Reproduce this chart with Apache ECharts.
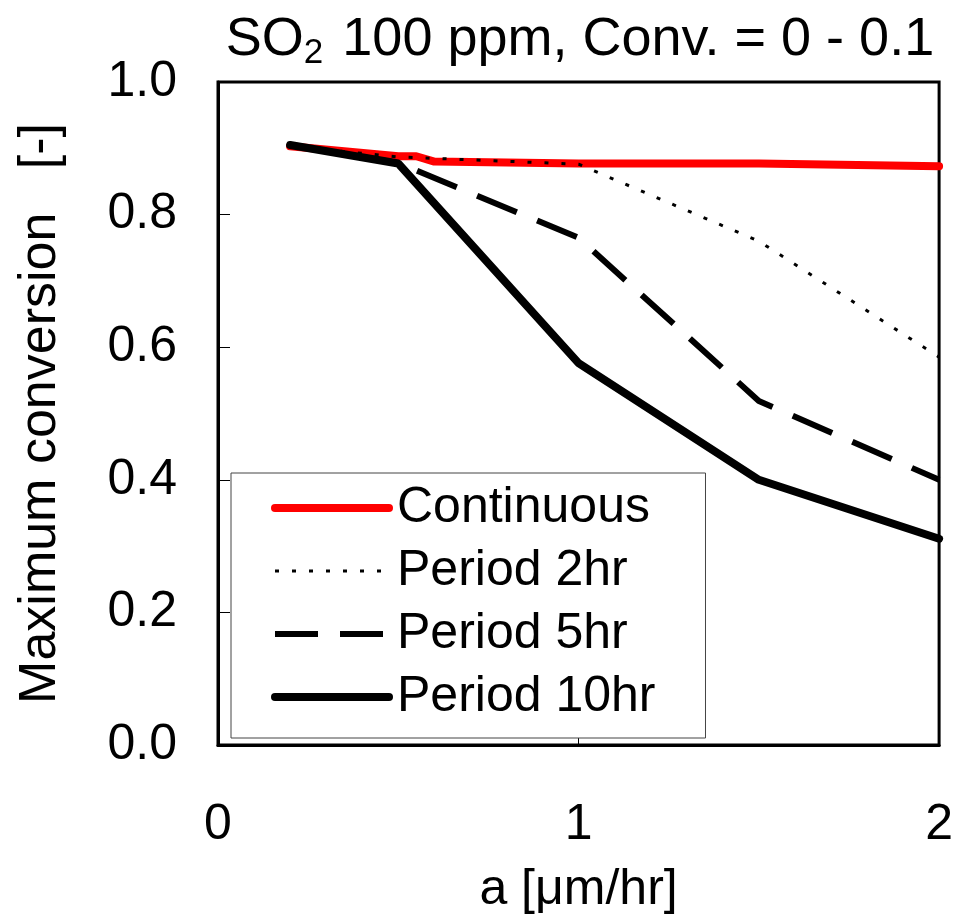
<!DOCTYPE html>
<html>
<head>
<meta charset="utf-8">
<script src="https://cdn.jsdelivr.net/npm/echarts@6/dist/echarts.min.js"></script>
<style>
  html, body { margin: 0; padding: 0; background: #fff; }
  #chart { width: 956px; height: 920px; }
</style>
</head>
<body>
<div id="chart"></div>
<script>
// Growth rate a [μm/hr] and maximum conversion for each operating mode
const continuousX = [0.2, 0.5, 0.55, 0.6, 1.0, 1.5, 2.0];
const continuousY = [0.903, 0.888, 0.888, 0.88, 0.877, 0.877, 0.873];
const period2X = [0.2, 0.5, 1.0, 1.5, 2.0];
const period2Y = [0.903, 0.887, 0.876, 0.76, 0.585];
const period5X = [0.2, 0.5, 1.0, 1.5, 2.0];
const period5Y = [0.905, 0.878, 0.765, 0.519, 0.40];
const period10X = [0.2, 0.5, 1.0, 1.5, 2.0];
const period10Y = [0.905, 0.877, 0.576, 0.40, 0.311];
const seriesNames = ['Continuous', 'Period 2hr', 'Period 5hr', 'Period 10hr'];
const xTicks = [0, 1, 2];
const yTicks = [0.0, 0.2, 0.4, 0.6, 0.8, 1.0];

const pairs = (xs, ys) => xs.map((x, i) => [x, ys[i]]);
const FONT = '"Liberation Sans", Arial, sans-serif';
const FS = 50;

const chart = echarts.init(document.getElementById('chart'), null, { renderer: 'canvas' });

chart.setOption({
  backgroundColor: '#ffffff',
  animation: false,
  title: {
    text: '{n|SO}{s|2}{n| 100 ppm, Conv. = 0 - 0.1}',
    left: 575,
    top: 4,
    textAlign: 'center',
    textStyle: {
      fontWeight: 'normal',
      rich: {
        n: { fontFamily: FONT, fontSize: 54, fontWeight: 'normal', color: '#000' },
        s: { fontFamily: FONT, fontSize: 35, fontWeight: 'normal', color: '#000', padding: [27, 4, 0, 0] }
      }
    }
  },
  grid: {
    left: 218, right: 11, top: 82, bottom: 166,
    show: true, borderColor: '#000', borderWidth: 3, backgroundColor: 'transparent'
  },
  xAxis: {
    type: 'value',
    min: xTicks[0], max: xTicks[xTicks.length - 1], interval: 1,
    name: 'a [μm/hr]',
    nameLocation: 'middle',
    nameGap: 120,
    nameTextStyle: { fontFamily: FONT, fontSize: FS, color: '#000' },
    axisLine: { show: true, lineStyle: { color: '#000', width: 3 } },
    axisTick: { show: true, inside: true, length: 12, lineStyle: { color: '#000', width: 1 } },
    axisLabel: { fontFamily: FONT, fontSize: FS, color: '#000', margin: 55 },
    splitLine: { show: false }
  },
  yAxis: {
    type: 'value',
    min: yTicks[0], max: yTicks[yTicks.length - 1], interval: 0.2,
    name: 'Maximum conversion   [-]',
    nameLocation: 'middle',
    nameGap: 151,
    nameTextStyle: { fontFamily: FONT, fontSize: 52, color: '#000' },
    axisLine: { show: true, lineStyle: { color: '#000', width: 3 } },
    axisTick: { show: true, inside: true, length: 12, lineStyle: { color: '#000', width: 1 } },
    axisLabel: {
      fontFamily: FONT, fontSize: FS, color: '#000', margin: 41,
      formatter: v => v.toFixed(1)
    },
    splitLine: { show: false }
  },
  legend: {
    orient: 'vertical',
    left: 231,
    top: 473,
    data: [
      { name: seriesNames[0], lineStyle: { cap: 'round' } },
      { name: seriesNames[1] },
      { name: seriesNames[2] },
      { name: seriesNames[3], lineStyle: { cap: 'round' } }
    ],
    backgroundColor: '#fff',
    borderColor: '#444',
    borderWidth: 1,
    padding: [10, 50, 16, 40],
    itemWidth: 114,
    itemHeight: 20,
    itemGap: 13,
    itemStyle: { opacity: 0 },
    lineStyle: { width: 'inherit' },
    textStyle: { fontFamily: FONT, fontSize: FS, color: '#000', padding: [0, 0, 0, 3] }
  },
  series: [
    {
      name: seriesNames[0], type: 'line', data: pairs(continuousX, continuousY),
      symbol: 'none', lineStyle: { color: '#ff0000', width: 8, cap: 'round' },
      itemStyle: { color: '#ff0000' }, z: 2
    },
    {
      name: seriesNames[1], type: 'line', data: pairs(period2X, period2Y),
      symbol: 'none', lineStyle: { color: '#000', width: 3, type: [4, 13] },
      itemStyle: { color: '#000' }, z: 6
    },
    {
      name: seriesNames[2], type: 'line', data: pairs(period5X, period5Y),
      symbol: 'none', lineStyle: { color: '#000', width: 6, type: [43, 22] },
      itemStyle: { color: '#000' }, z: 4
    },
    {
      name: seriesNames[3], type: 'line', data: pairs(period10X, period10Y),
      symbol: 'none', lineStyle: { color: '#000', width: 8, cap: 'round' },
      itemStyle: { color: '#000' }, z: 5
    }
  ]
});
</script>
</body>
</html>
